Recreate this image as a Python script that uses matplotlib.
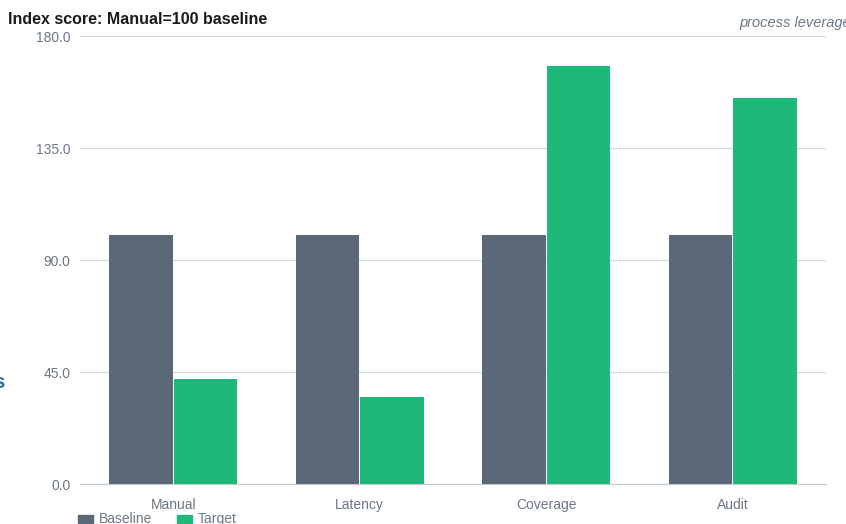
import numpy as np
import matplotlib.pyplot as plt
from matplotlib.patches import Rectangle

# Data
categories = ['Manual', 'Latency', 'Coverage', 'Audit']
baseline = [100, 100, 100, 100]
target = [42, 35, 168, 155]
yticks = [0.0, 45.0, 90.0, 135.0, 180.0]
series_names = ['Baseline', 'Target']
series_colors = ['#5b6878', '#1eb87a']

plt.rcParams['font.family'] = ['Liberation Sans', 'DejaVu Sans']

W, H = 846, 524
fig = plt.figure(figsize=(W / 100, H / 100), dpi=100)
ax = fig.add_axes([80 / W, 1 - 484 / H, 746 / W, 448 / H])

x = np.arange(len(categories))
w = 0.34
ax.bar(x - w / 2 - 0.003, baseline, w, color=series_colors[0], zorder=3)
ax.bar(x + w / 2 + 0.003, target, w, color=series_colors[1], zorder=3)

ax.set_xlim(-0.5, len(categories) - 0.5)
ax.set_ylim(0, 180)
ax.set_yticks(yticks)
ax.set_yticklabels([f'{v:.1f}' for v in yticks])
ax.set_xticks(x)
ax.set_xticklabels(categories)
ax.tick_params(axis='both', length=0, labelsize=10, colors='#6b7785')
ax.tick_params(axis='y', pad=7)
ax.tick_params(axis='x', pad=10)
ax.grid(axis='y', color='#d3d8de', linewidth=0.9, zorder=0)
for s in ['top', 'right', 'left']:
    ax.spines[s].set_visible(False)
ax.spines['bottom'].set_color('#c4cad2')

fig.text(8 / W, 1 - 20 / H, 'Index score: Manual=100 baseline',
         fontsize=11.5, fontweight='bold', color='#1a1a1a', va='center')
fig.text(851 / W, 1 - 23 / H, 'process leverage', fontsize=10.5,
         style='italic', color='#6b7785', ha='right', va='center')
fig.text(6 / W, 1 - 383 / H, 'Signals', fontsize=15, fontweight='bold',
         color='#2a6fa8', ha='right', va='center')

# legend along the bottom edge, drawn by hand so both entries share a baseline
legend_x = [78, 177]
for lx, name, col in zip(legend_x, series_names, series_colors):
    fig.patches.append(Rectangle((lx / W, 1 - 523 / H), 15 / W, 8 / H,
                                 transform=fig.transFigure, color=col))
    fig.text((lx + 21) / W, 1 - 519 / H, name, fontsize=10,
             color='#6b7785', va='center')

fig.savefig('out.png', dpi=100)
